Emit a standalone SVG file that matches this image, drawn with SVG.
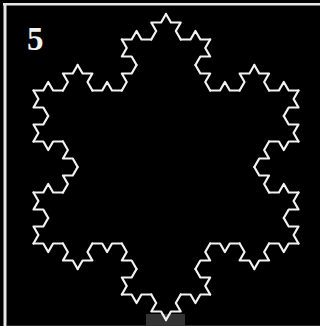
<svg xmlns="http://www.w3.org/2000/svg" xmlns:xlink="http://www.w3.org/1999/xlink" width="320" height="326" viewBox="0 0 320 326">
<defs>
<style>
.k{fill:none;stroke:#f2f2f2;stroke-width:2.2;stroke-linecap:round;stroke-linejoin:round}
</style>
<path id="k1" class="k" d="M0,0 L9.815,0 L14.7225,-8.5 L19.63,0 L29.445,0"/>
<g id="k2">
<use xlink:href="#k1"/>
<use xlink:href="#k1" transform="translate(29.445,0) rotate(-60)"/>
<use xlink:href="#k1" transform="translate(44.1675,-25.5) rotate(60)"/>
<use xlink:href="#k1" transform="translate(58.89,0)"/>
</g>
<g id="k3">
<use xlink:href="#k2"/>
<use xlink:href="#k2" transform="translate(88.335,0) rotate(-60)"/>
<use xlink:href="#k2" transform="translate(132.5025,-76.5) rotate(60)"/>
<use xlink:href="#k2" transform="translate(176.67,0)"/>
</g>
</defs>
<rect width="320" height="326" fill="#000"/>
<line x1="3" y1="4.2" x2="320" y2="4.2" stroke="#e6e6e6" stroke-width="2.6"/>
<line x1="5" y1="3" x2="5" y2="326" stroke="#e6e6e6" stroke-width="3"/>
<line x1="7" y1="325.5" x2="320" y2="325.5" stroke="#2a2a2a" stroke-width="1"/>
<rect x="146" y="314" width="39" height="12" fill="#333"/>
<g id="snowflake">
<use xlink:href="#k3" transform="translate(166,14) rotate(60)"/>
<use xlink:href="#k3" transform="translate(298.5,243.5) rotate(180)"/>
<use xlink:href="#k3" transform="translate(33.5,243.5) rotate(-60)"/>
</g>
<text x="27" y="50" font-family="Liberation Serif, serif" font-size="33" font-weight="bold" fill="#f2f2f2">5</text>
</svg>
